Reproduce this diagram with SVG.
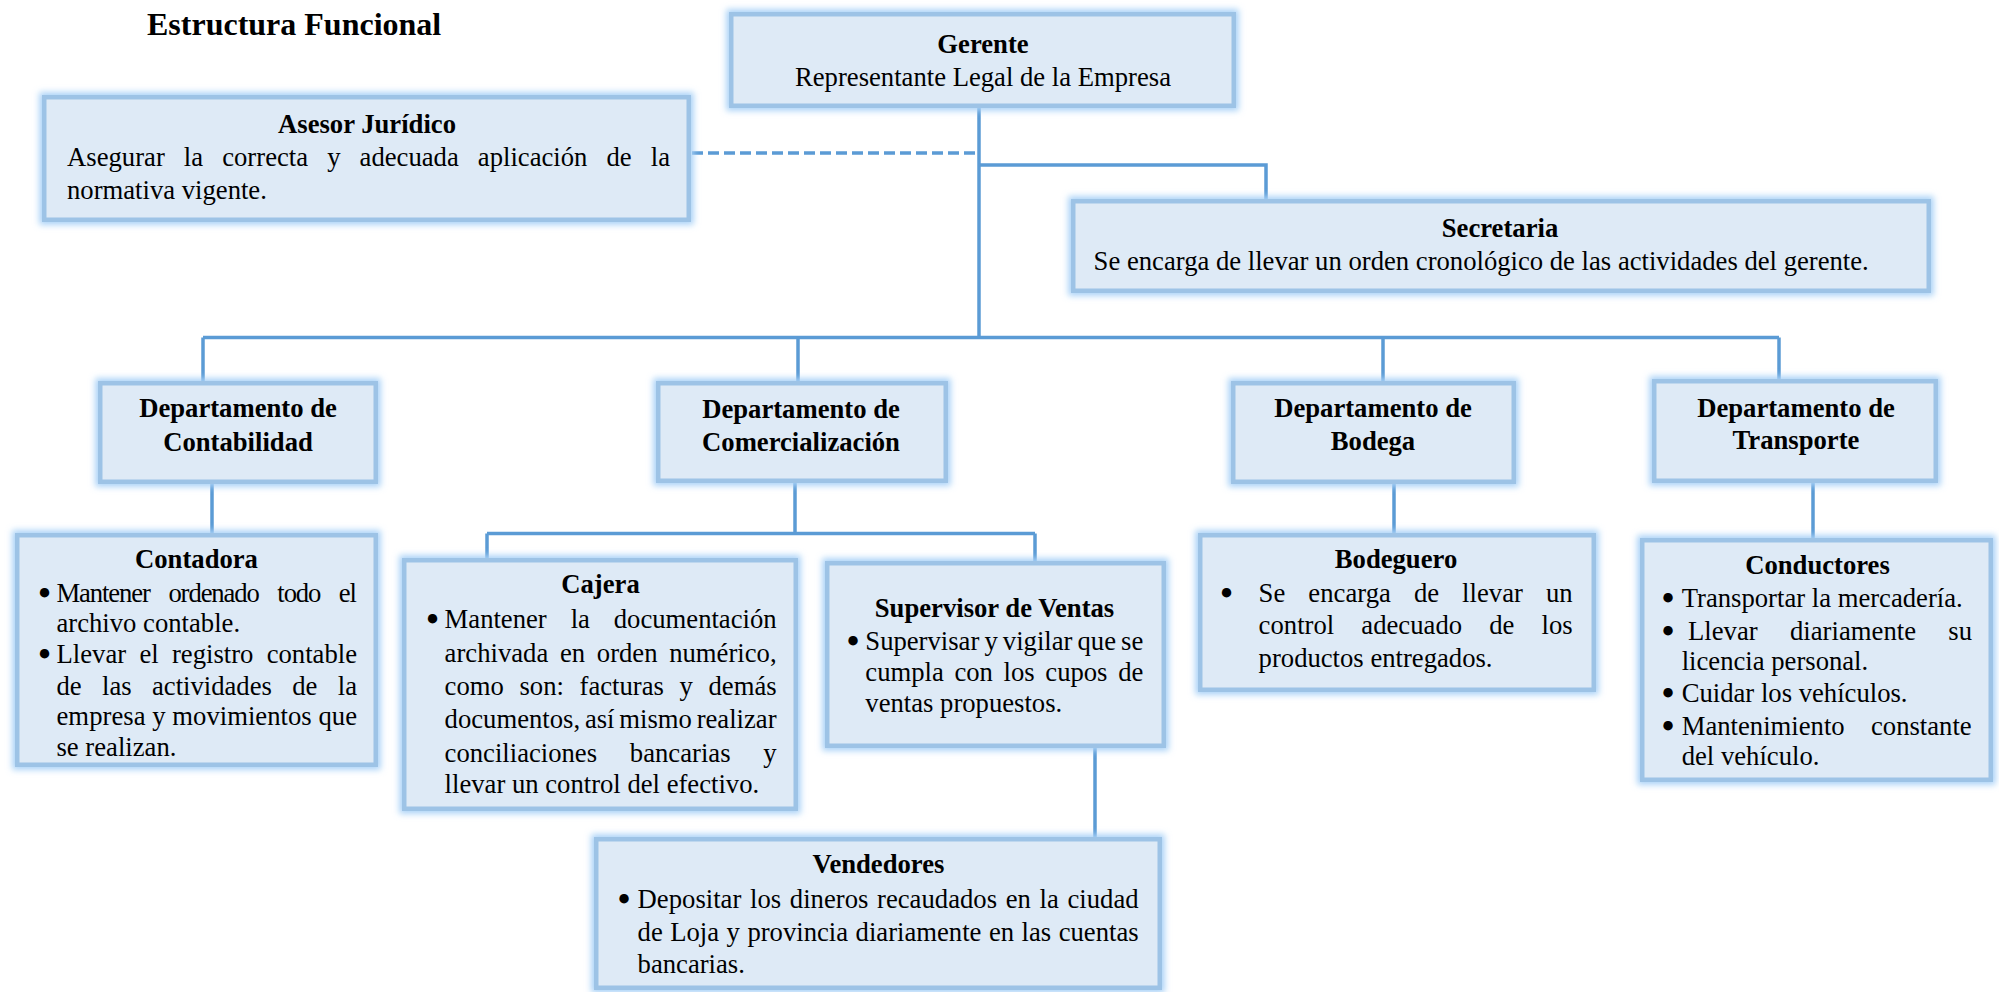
<svg xmlns="http://www.w3.org/2000/svg" width="1999" height="992" viewBox="0 0 1999 992">
  <style>
    text { font-family: "Liberation Serif", "Times New Roman", serif; font-size: 26.67px; fill: #000; }
    .title { font-size: 32px; font-weight: bold; }
    .h { font-weight: bold; text-anchor: middle; }
    .c { text-anchor: middle; }
    .bul { text-anchor: middle; font-family: "DejaVu Sans", sans-serif; font-weight: bold; }
    .box { fill: #DEEAF6; stroke: #9DC3E6; stroke-width: 4.5; }
    .glow { fill: #A9D1F7; stroke: #A9D1F7; stroke-width: 10; filter: url(#blur); }
    .conn path { fill: none; stroke: #5B9BD5; stroke-width: 3.5; }
    .conn .dash { stroke-dasharray: 11 5; }
  </style>
  <defs>
    <filter id="blur" x="-20%" y="-20%" width="140%" height="140%">
      <feGaussianBlur stdDeviation="3"/>
    </filter>
  </defs>
  <rect width="1999" height="992" fill="#fff"/>

  <text class="title" x="147" y="35">Estructura Funcional</text>

  <!-- connectors -->
  <g id="connectors" class="conn">
    <path d="M979 108 V337.5"/>
    <path d="M203 337.5 H1779"/>
    <path d="M203 337.5 V381"/>
    <path d="M798 337.5 V381"/>
    <path d="M1383 337.5 V381"/>
    <path d="M1779 337.5 V379"/>
    <path d="M979 165 H1266 V199"/>
    <path class="dash" d="M692 153 H979"/>
    <path d="M212 484 V533"/>
    <path d="M795 483 V533.5"/>
    <path d="M487 533.5 H1035"/>
    <path d="M487 533.5 V558"/>
    <path d="M1035 533.5 V561"/>
    <path d="M1394 484 V533"/>
    <path d="M1813 483 V538"/>
    <path d="M1095 748 V837"/>
  </g>

  <g id="gerente">
    <rect class="glow" x="731.25" y="14.25" width="502.5" height="91.5"/>
    <rect class="box" x="731.25" y="14.25" width="502.5" height="91.5"/>
    <text class="h" x="983" y="52.7">Gerente</text>
    <text class="c" x="983" y="86">Representante Legal de la Empresa</text>
  </g>

  <g id="asesor">
    <rect class="glow" x="44.25" y="97.25" width="644.5" height="122.5"/>
    <rect class="box" x="44.25" y="97.25" width="644.5" height="122.5"/>
    <text class="h" x="367" y="132.7">Asesor Jurídico</text>
    <text x="67" y="166" style="word-spacing:12.4px" textLength="603" lengthAdjust="spacing">Asegurar la correcta y adecuada aplicación de la</text>
    <text x="67" y="199.3">normativa vigente.</text>
  </g>

  <g id="secretaria">
    <rect class="glow" x="1073.25" y="201.25" width="855.5" height="89.5"/>
    <rect class="box" x="1073.25" y="201.25" width="855.5" height="89.5"/>
    <text class="h" x="1500" y="237">Secretaria</text>
    <text x="1093.6" y="270">Se encarga de llevar un orden cronológico de las actividades del gerente.</text>
  </g>

  <g id="dep-contabilidad">
    <rect class="glow" x="100.25" y="383.25" width="275.5" height="98.5"/>
    <rect class="box" x="100.25" y="383.25" width="275.5" height="98.5"/>
    <text class="h" x="238" y="417">Departamento de</text>
    <text class="h" x="238" y="450.7">Contabilidad</text>
  </g>

  <g id="dep-comercializacion">
    <rect class="glow" x="658.25" y="383.25" width="287.5" height="97.5"/>
    <rect class="box" x="658.25" y="383.25" width="287.5" height="97.5"/>
    <text class="h" x="801" y="418">Departamento de</text>
    <text class="h" x="801" y="451">Comercialización</text>
  </g>

  <g id="dep-bodega">
    <rect class="glow" x="1233.25" y="383.25" width="280.5" height="98.5"/>
    <rect class="box" x="1233.25" y="383.25" width="280.5" height="98.5"/>
    <text class="h" x="1373" y="417">Departamento de</text>
    <text class="h" x="1373" y="450">Bodega</text>
  </g>

  <g id="dep-transporte">
    <rect class="glow" x="1654.25" y="381.25" width="281.5" height="99.5"/>
    <rect class="box" x="1654.25" y="381.25" width="281.5" height="99.5"/>
    <text class="h" x="1796" y="417">Departamento de</text>
    <text class="h" x="1796" y="449">Transporte</text>
  </g>

  <g id="contadora">
    <rect class="glow" x="17.25" y="535.25" width="358.5" height="229.5"/>
    <rect class="box" x="17.25" y="535.25" width="358.5" height="229.5"/>
    <text class="h" x="196.5" y="568">Contadora</text>
    <text class="bul" x="44.5" y="602.7">•</text>
    <text x="56.5" y="601.7" style="word-spacing:13px" textLength="300.5" lengthAdjust="spacing">Mantener ordenado todo el</text>
    <text x="56.5" y="631.7">archivo contable.</text>
    <text class="bul" x="44.5" y="664.3">•</text>
    <text x="56.5" y="663.3" style="word-spacing:6.6px" textLength="300.5" lengthAdjust="spacing">Llevar el registro contable</text>
    <text x="56.5" y="695" style="word-spacing:13.7px" textLength="300.5" lengthAdjust="spacing">de las actividades de la</text>
    <text x="56.5" y="725" textLength="300.5" lengthAdjust="spacing">empresa y movimientos que</text>
    <text x="56.5" y="756">se realizan.</text>
  </g>

  <g id="cajera">
    <rect class="glow" x="404.25" y="560.25" width="391.5" height="248.5"/>
    <rect class="box" x="404.25" y="560.25" width="391.5" height="248.5"/>
    <text class="h" x="600.5" y="593.3">Cajera</text>
    <text class="bul" x="432.5" y="629.3">•</text>
    <text x="444.6" y="628.3" style="word-spacing:17.2px" textLength="332" lengthAdjust="spacing">Mantener la documentación</text>
    <text x="444.6" y="661.7" style="word-spacing:5px" textLength="332" lengthAdjust="spacing">archivada en orden numérico,</text>
    <text x="444.6" y="695" style="word-spacing:8.9px" textLength="332" lengthAdjust="spacing">como son: facturas y demás</text>
    <text x="444.6" y="728.3" style="word-spacing:-1.9px" textLength="332" lengthAdjust="spacing">documentos, así mismo realizar</text>
    <text x="444.6" y="761.7" style="word-spacing:26.1px" textLength="332" lengthAdjust="spacing">conciliaciones bancarias y</text>
    <text x="444.6" y="793.3">llevar un control del efectivo.</text>
  </g>

  <g id="supervisor">
    <rect class="glow" x="827.25" y="563.25" width="336.5" height="182.5"/>
    <rect class="box" x="827.25" y="563.25" width="336.5" height="182.5"/>
    <text class="h" x="994.5" y="616.7">Supervisor de Ventas</text>
    <text class="bul" x="853" y="651">•</text>
    <text x="865.3" y="650" style="word-spacing:-1.6px" textLength="278" lengthAdjust="spacing">Supervisar y vigilar que se</text>
    <text x="865.3" y="680.7" style="word-spacing:4px" textLength="278" lengthAdjust="spacing">cumpla con los cupos de</text>
    <text x="865.3" y="711.7">ventas propuestos.</text>
  </g>

  <g id="bodeguero">
    <rect class="glow" x="1200.25" y="535.25" width="393.5" height="154.5"/>
    <rect class="box" x="1200.25" y="535.25" width="393.5" height="154.5"/>
    <text class="h" x="1396" y="568.3">Bodeguero</text>
    <text class="bul" x="1226.5" y="602.7">•</text>
    <text x="1258.6" y="601.7" style="word-spacing:16.2px" textLength="314" lengthAdjust="spacing">Se encarga de llevar un</text>
    <text x="1258.6" y="634" style="word-spacing:20.4px" textLength="314" lengthAdjust="spacing">control adecuado de los</text>
    <text x="1258.6" y="666.7">productos entregados.</text>
  </g>

  <g id="conductores">
    <rect class="glow" x="1642.25" y="540.25" width="348.5" height="239.5"/>
    <rect class="box" x="1642.25" y="540.25" width="348.5" height="239.5"/>
    <text class="h" x="1817.5" y="574">Conductores</text>
    <text class="bul" x="1668" y="607.7">•</text>
    <text x="1681.7" y="606.7">Transportar la mercadería.</text>
    <text class="bul" x="1668" y="641">•</text>
    <text x="1688" y="640" style="word-spacing:25.6px" textLength="284" lengthAdjust="spacing">Llevar diariamente su</text>
    <text x="1681.7" y="670">licencia personal.</text>
    <text class="bul" x="1668" y="702.7">•</text>
    <text x="1681.7" y="701.7">Cuidar los vehículos.</text>
    <text class="bul" x="1668" y="736">•</text>
    <text x="1681.7" y="735" style="word-spacing:19.6px" textLength="290" lengthAdjust="spacing">Mantenimiento constante</text>
    <text x="1681.7" y="765">del vehículo.</text>
  </g>

  <g id="vendedores">
    <rect class="glow" x="596.25" y="839.25" width="563.5" height="148.5"/>
    <rect class="box" x="596.25" y="839.25" width="563.5" height="148.5"/>
    <text class="h" x="878.5" y="873.3">Vendedores</text>
    <text class="bul" x="624" y="909.3">•</text>
    <text x="637.6" y="908.3" style="word-spacing:2px" textLength="501" lengthAdjust="spacing">Depositar los dineros recaudados en la ciudad</text>
    <text x="637.6" y="940.7" style="word-spacing:0.8px" textLength="501" lengthAdjust="spacing">de Loja y provincia diariamente en las cuentas</text>
    <text x="637.6" y="973.3">bancarias.</text>
  </g>
</svg>
